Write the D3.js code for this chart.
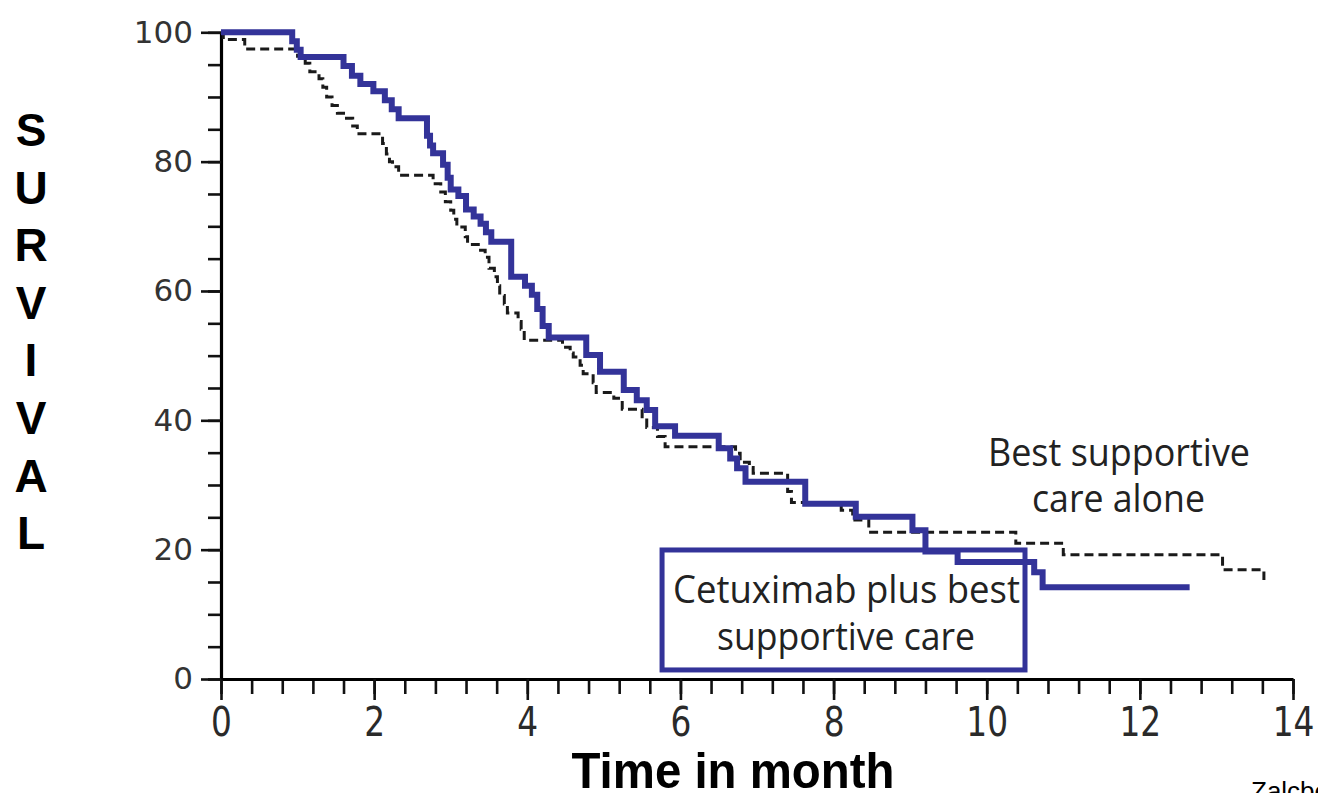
<!DOCTYPE html>
<html>
<head>
<meta charset="utf-8">
<script src="https://cdn.jsdelivr.net/npm/d3@7"></script>
<style>
  html, body { margin: 0; padding: 0; background: #fff; }
  svg { display: block; }
</style>
</head>
<body>
<svg id="chart" width="1318" height="793"></svg>
<script>
// Kaplan-Meier step points: time in months and percent surviving.
const cetuximabMonths = [0, 0.93, 0.99, 1.04, 1.60, 1.71, 1.82, 1.99, 2.14, 2.23, 2.32, 2.69, 2.73, 2.77, 2.90, 2.96, 3.00, 3.10, 3.20, 3.30, 3.39, 3.46, 3.53, 3.79, 3.97, 4.06, 4.13, 4.20, 4.28, 4.77, 4.95, 5.26, 5.43, 5.56, 5.67, 5.93, 6.50, 6.65, 6.74, 6.85, 7.63, 8.29, 9.03, 9.20, 9.62, 10.62, 10.73, 12.65];
const cetuximabSurvival = [100, 98.6, 97.3, 96.2, 94.8, 93.3, 92.0, 90.9, 89.5, 88.1, 86.7, 84.0, 82.5, 81.3, 79.5, 77.5, 75.7, 74.7, 72.6, 71.5, 70.4, 69.1, 67.6, 62.2, 60.8, 59.4, 57.2, 54.6, 52.8, 50.1, 47.5, 44.7, 43.1, 41.6, 39.1, 37.6, 35.7, 34.1, 32.6, 30.5, 27.1, 25.1, 23.0, 19.7, 18.1, 16.5, 14.2, 14.2];

const bscMonths = [0, 0.03, 0.31, 1.00, 1.10, 1.16, 1.28, 1.33, 1.38, 1.45, 1.52, 1.60, 1.72, 1.78, 2.11, 2.16, 2.20, 2.24, 2.32, 2.77, 2.87, 2.93, 3.00, 3.04, 3.08, 3.19, 3.22, 3.36, 3.45, 3.50, 3.57, 3.61, 3.64, 3.70, 3.74, 3.88, 3.92, 3.96, 4.46, 4.56, 4.60, 4.69, 4.73, 4.86, 4.90, 5.13, 5.24, 5.50, 5.56, 5.70, 5.80, 6.72, 6.78, 6.90, 6.95, 7.40, 7.45, 8.10, 8.25, 8.46, 10.38, 11.00, 13.08, 13.62];
const bscSurvival = [100, 98.9, 97.4, 96.3, 95.2, 93.9, 92.8, 91.5, 90.0, 88.7, 87.5, 86.7, 85.5, 84.3, 82.8, 81.2, 80.0, 79.2, 77.9, 76.6, 75.3, 73.8, 72.5, 71.1, 69.9, 68.4, 67.2, 66.3, 65.2, 63.5, 62.2, 60.8, 59.3, 58.0, 56.6, 55.3, 54.1, 52.4, 51.3, 50.4, 49.8, 48.5, 47.2, 45.8, 44.3, 43.4, 41.7, 40.3, 38.9, 37.5, 35.9, 34.9, 33.5, 32.7, 31.8, 29.0, 27.3, 26.1, 24.6, 22.7, 21.0, 19.2, 16.9, 15.3];

const xMajorTicks = [0, 2, 4, 6, 8, 10, 12, 14];
const xMinorTicks = d3.range(0, 36).map(i => +(i * 0.4).toFixed(1));
const yMajorTicks = [0, 20, 40, 60, 80, 100];
const yMinorTicks = d3.range(0, 21).map(i => i * 5);

const yTitleLetters = ["S", "U", "R", "V", "I", "V", "A", "L"];
const xTitle = "Time in month";
const bscLabel = ["Best supportive", "care alone"];
const cetuximabLabel = ["Cetuximab plus best", "supportive care"];
const sourceNote = "Zalcberg";

const blue = "#333399";
const svg = d3.select("#chart");

const x = d3.scaleLinear().domain([0, 14]).range([221, 1293]);
const y = d3.scaleLinear().domain([0, 100]).range([679, 32.3]);

svg.append("rect").attr("width", 1318).attr("height", 793).attr("fill", "#fff");

// ---- axes ----
const xAxisG = svg.append("g").attr("transform", "translate(0,679)");
xAxisG.append("g")
  .call(d3.axisBottom(x).tickValues(xMinorTicks).tickSize(15).tickSizeOuter(0).tickFormat(""))
  .call(g => g.select(".domain").remove());
xAxisG.append("g")
  .call(d3.axisBottom(x).tickValues(xMajorTicks).tickSize(21).tickSizeOuter(0).tickPadding(7).tickFormat(d3.format("d")))
  .call(g => g.select(".domain").attr("stroke-width", 3.2));
xAxisG.selectAll(".tick line").attr("stroke", "#111").attr("stroke-width", 2.6);
xAxisG.selectAll(".tick text")
  .attr("font-family", "DejaVu Sans, sans-serif")
  .attr("font-size", 41)
  .attr("fill", "#2a2a2a")
  .attr("transform", "scale(0.8,1)");

const yAxisG = svg.append("g").attr("transform", "translate(221,0)");
yAxisG.append("g")
  .call(d3.axisLeft(y).tickValues(yMinorTicks).tickSize(13).tickSizeOuter(0).tickFormat(""))
  .call(g => g.select(".domain").remove());
yAxisG.append("g")
  .call(d3.axisLeft(y).tickValues(yMajorTicks).tickSize(20).tickSizeOuter(0).tickPadding(8).tickFormat(d3.format("d")))
  .call(g => g.select(".domain").attr("stroke-width", 3.2));
yAxisG.selectAll(".tick line").attr("stroke", "#111").attr("stroke-width", 2.6);
yAxisG.selectAll(".tick text")
  .attr("font-family", "DejaVu Sans, sans-serif")
  .attr("font-size", 31)
  .attr("fill", "#333");

// ---- survival curves ----
const step = d3.line()
  .x(d => x(d[0]))
  .y(d => y(d[1]))
  .curve(d3.curveStepAfter);

const bscPoints = bscMonths.map((m, i) => [m, bscSurvival[i]]);
const cetuximabPoints = cetuximabMonths.map((m, i) => [m, cetuximabSurvival[i]]);

// annotation box for the treatment arm
svg.append("rect")
  .attr("x", x(5.76)).attr("y", y(19.95))
  .attr("width", x(10.5) - x(5.76)).attr("height", y(1.4) - y(19.95))
  .attr("fill", "none").attr("stroke", blue).attr("stroke-width", 5);

svg.append("path")
  .datum(bscPoints)
  .attr("d", step)
  .attr("fill", "none")
  .attr("stroke", "#1a1a1a")
  .attr("stroke-width", 3)
  .attr("stroke-dasharray", "9,5");

svg.append("path")
  .datum(cetuximabPoints)
  .attr("d", step)
  .attr("fill", "none")
  .attr("stroke", blue)
  .attr("stroke-width", 6)
  .attr("stroke-linejoin", "miter");

// ---- curve labels ----
const labelFont = "Open Sans, Noto Sans, sans-serif";
const bscText = svg.append("g").attr("font-family", labelFont).attr("font-size", 38).attr("fill", "#222");
bscText.append("text").attr("x", 1119).attr("y", 466).attr("text-anchor", "middle")
  .attr("textLength", 262).attr("lengthAdjust", "spacingAndGlyphs").text(bscLabel[0]);
bscText.append("text").attr("x", 1118.5).attr("y", 512).attr("text-anchor", "middle")
  .attr("textLength", 173).attr("lengthAdjust", "spacingAndGlyphs").text(bscLabel[1]);

const cetText = svg.append("g").attr("font-family", labelFont).attr("font-size", 38).attr("fill", "#222");
cetText.append("text").attr("x", 846.5).attr("y", 603).attr("text-anchor", "middle")
  .attr("textLength", 347).attr("lengthAdjust", "spacingAndGlyphs").text(cetuximabLabel[0]);
cetText.append("text").attr("x", 846).attr("y", 650).attr("text-anchor", "middle")
  .attr("textLength", 258).attr("lengthAdjust", "spacingAndGlyphs").text(cetuximabLabel[1]);

// ---- axis titles ----
svg.append("g")
  .attr("font-family", "Liberation Sans, Arial, sans-serif")
  .attr("font-weight", "bold")
  .attr("font-size", 46)
  .attr("fill", "#000")
  .selectAll("text")
  .data(yTitleLetters)
  .join("text")
  .attr("x", 31)
  .attr("y", (d, i) => 146 + i * 57.6)
  .attr("text-anchor", "middle")
  .text(d => d);

svg.append("text")
  .attr("x", 733).attr("y", 788)
  .attr("text-anchor", "middle")
  .attr("font-family", "Liberation Sans, Arial, sans-serif")
  .attr("font-weight", "bold")
  .attr("font-size", 50)
  .attr("textLength", 323).attr("lengthAdjust", "spacingAndGlyphs")
  .text(xTitle);

svg.append("text")
  .attr("x", 1251).attr("y", 800)
  .attr("font-family", "Liberation Sans, Arial, sans-serif")
  .attr("font-size", 26)
  .attr("fill", "#000")
  .text(sourceNote);
</script>
</body>
</html>
